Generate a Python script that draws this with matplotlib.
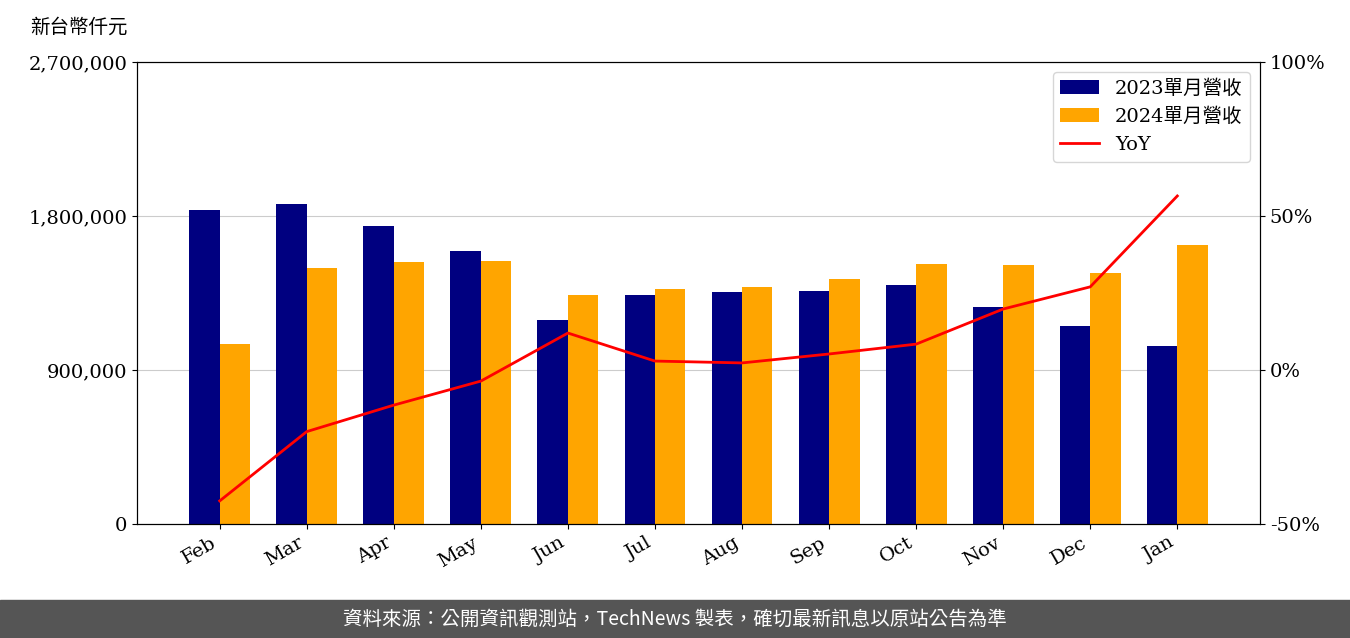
import matplotlib
matplotlib.use("Agg")
import matplotlib.pyplot as plt
import numpy as np
from matplotlib.ticker import FuncFormatter

months = ["Feb","Mar","Apr","May","Jun","Jul","Aug","Sep","Oct","Nov","Dec","Jan"]
rev2023 = [1835000,1870000,1742000,1595000,1192000,1338000,1356000,1362000,1397000,1268000,1157000,1040000]
rev2024 = [1052000,1496000,1531000,1537000,1338000,1373000,1385000,1432000,1519000,1514000,1467000,1630000]
yoy = [-42.5,-20.0,-11.4,-3.6,12.0,2.9,2.3,5.2,8.4,19.8,27.0,56.5]

plt.rcParams['font.family'] = ['DejaVu Serif','Noto Sans CJK TC']
fig = plt.figure(figsize=(13.5,6.38), dpi=100)
ax = fig.add_axes([137/1350, 1-524/638, (1260-137)/1350, 462/638])
x = np.arange(len(months))
w = 0.35
b1 = ax.bar(x-w/2, rev2023, w, color='#000080', label='2023單月營收')
b2 = ax.bar(x+w/2, rev2024, w, color='#FFA500', label='2024單月營收')
ax.set_ylim(0,2700000)
ax.set_yticks([0,900000,1800000,2700000])
ax.yaxis.set_major_formatter(FuncFormatter(lambda v,p: f"{int(v):,}"))
ax.grid(axis='y', color='#cccccc')
ax.set_axisbelow(True)
ax.set_xticks(x)
ax.set_xticklabels(months, rotation=30, ha='right')
ax.set_xlim(-0.95, 11.95)
ax.tick_params(labelsize=14)
ax2 = ax.twinx()
l, = ax2.plot(x, yoy, color='red', lw=2, label='YoY')
ax2.set_ylim(-50,100)
ax2.set_yticks([-50,0,50,100])
ax2.yaxis.set_major_formatter(FuncFormatter(lambda v,p: f"{int(v)}%"))
ax2.tick_params(labelsize=14)
leg = ax.legend(handles=[b1,b2,l], loc='upper right', fontsize=14)
fig.text(30/1350, 1-27/638, '新台幣仟元', fontsize=14, family=['Noto Sans CJK TC'], va='center')
fig.patches.append(plt.Rectangle((0,0),1,38/638, transform=fig.transFigure, color='#555555'))
fig.text(0.5, 19/638, '資料來源：公開資訊觀測站，TechNews 製表，確切最新訊息以原站公告為準',
         color='white', fontsize=14, ha='center', va='center', family=['Noto Sans CJK TC'], weight='medium')
fig.savefig('out.png', dpi=100)
